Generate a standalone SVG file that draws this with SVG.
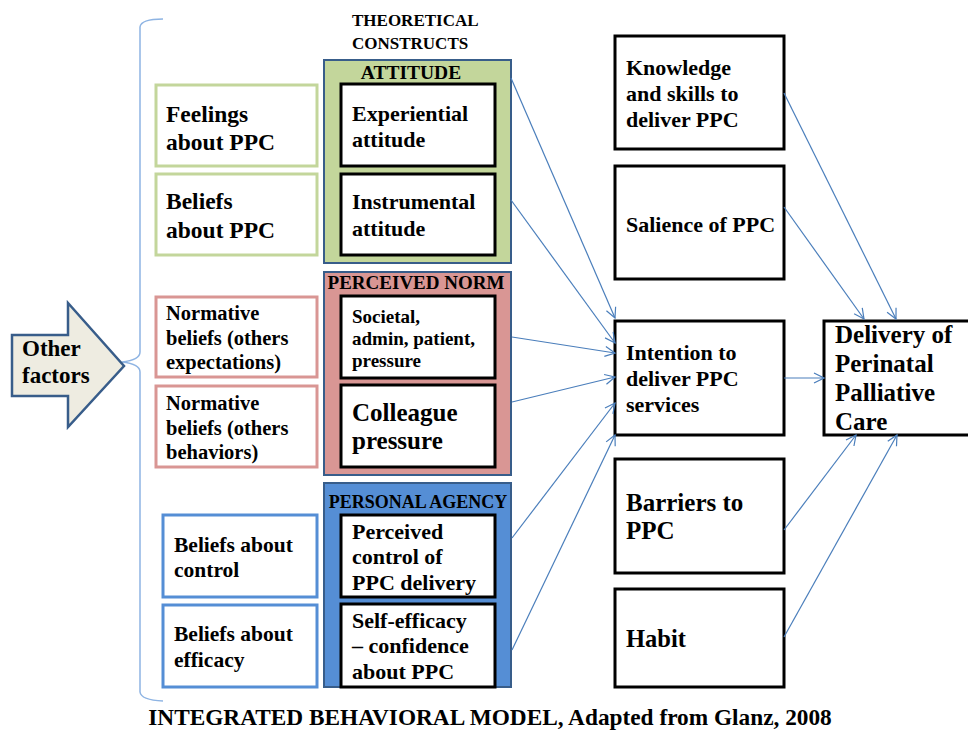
<svg xmlns="http://www.w3.org/2000/svg" width="968" height="731" viewBox="0 0 968 731">
<style>
text{font-family:"Liberation Serif","Times New Roman",serif;font-weight:bold;fill:#000}
.blk{fill:#fff;stroke:#000;stroke-width:3}
.gl{fill:#fff;stroke:#c3d69b;stroke-width:3}
.pl{fill:#fff;stroke:#d99694;stroke-width:3}
.bl{fill:#fff;stroke:#558ed5;stroke-width:3}
.con path{fill:none;stroke:#4a7ebb;stroke-width:1.2;marker-end:url(#ah)}
</style>
<defs>
<marker id="ah" markerUnits="userSpaceOnUse" markerWidth="12" markerHeight="12" viewBox="0 0 12 12" refX="11" refY="6" orient="auto">
<path d="M1,1 L11,6 L1,11" fill="none" stroke="#4a7ebb" stroke-width="1.2"/>
</marker>
</defs>
<rect width="968" height="731" fill="#fff"/>

<g id="brace"><path d="M163,19 Q141,19 140,27 L140,352 Q140,360 122,362 Q140,364 140,372 L140,692 Q141,700 163,701" fill="none" stroke="#8eb4e3" stroke-width="1.5"/></g>

<g id="other-factors">
<path d="M12,335 L68,335 L68,303 L124,366 L68,427 L68,396 L12,396 Z" fill="#eeece1" stroke="#385d8a" stroke-width="2.5" stroke-linejoin="miter"/>
<text x="22" y="356" font-size="23">Other</text>
<text x="22" y="383" font-size="23">factors</text>
</g>

<g id="title-constructs">
<text x="352" y="26" font-size="17">THEORETICAL</text>
<text x="352" y="49" font-size="17">CONSTRUCTS</text>
</g>

<g id="feelings"><rect class="gl" x="156" y="85" width="161" height="81"/>
<text x="166" y="122" font-size="23.5">Feelings</text><text x="166" y="150" font-size="23.5">about PPC</text></g>
<g id="beliefs"><rect class="gl" x="156" y="174" width="161" height="81"/>
<text x="166" y="209" font-size="23.5">Beliefs</text><text x="166" y="238" font-size="23.5">about PPC</text></g>

<g id="norm-exp"><rect class="pl" x="156" y="297" width="161" height="80"/>
<text x="166" y="320" font-size="20.5">Normative</text><text x="166" y="345" font-size="20.5">beliefs (others</text><text x="166" y="369" font-size="20.5">expectations)</text></g>
<g id="norm-beh"><rect class="pl" x="156" y="386" width="161" height="81"/>
<text x="166" y="410" font-size="20.5">Normative</text><text x="166" y="435" font-size="20.5">beliefs (others</text><text x="166" y="459" font-size="20.5">behaviors)</text></g>

<g id="bel-control"><rect class="bl" x="163" y="515" width="154" height="82"/>
<text x="174" y="552" font-size="21.5">Beliefs about</text><text x="174" y="577" font-size="21.5">control</text></g>
<g id="bel-efficacy"><rect class="bl" x="163" y="605" width="154" height="82"/>
<text x="174" y="641" font-size="21.5">Beliefs about</text><text x="174" y="667" font-size="21.5">efficacy</text></g>

<g id="attitude">
<rect x="324" y="60" width="187" height="203" fill="#c3d69b" stroke="#385d8a" stroke-width="2"/>
<text x="411" y="79" font-size="19.5" text-anchor="middle">ATTITUDE</text>
</g>
<g id="experiential"><rect class="blk" x="341" y="84" width="154" height="82"/>
<text x="352" y="121" font-size="22">Experiential</text><text x="352" y="147" font-size="22">attitude</text></g>
<g id="instrumental"><rect class="blk" x="341" y="174" width="154" height="81"/>
<text x="352" y="209" font-size="22">Instrumental</text><text x="352" y="236" font-size="22">attitude</text></g>

<g id="perceived-norm">
<rect x="324" y="272" width="187" height="203" fill="#d99694" stroke="#385d8a" stroke-width="2"/>
<text x="416" y="289" font-size="19" text-anchor="middle">PERCEIVED NORM</text>
</g>
<g id="societal"><rect class="blk" x="341" y="296" width="154" height="82"/>
<text x="352" y="323" font-size="19">Societal,</text><text x="352" y="345" font-size="19">admin, patient,</text><text x="352" y="367" font-size="19">pressure</text></g>
<g id="colleague"><rect class="blk" x="341" y="385" width="154" height="82"/>
<text x="352" y="421" font-size="25">Colleague</text><text x="352" y="449" font-size="25">pressure</text></g>

<g id="personal-agency">
<rect x="324" y="483" width="187" height="204" fill="#558ed5" stroke="#385d8a" stroke-width="2"/>
<text x="418" y="508" font-size="18" text-anchor="middle">PERSONAL AGENCY</text>
</g>
<g id="perceived-control"><rect class="blk" x="341" y="515" width="154" height="82"/>
<text x="352" y="539" font-size="22">Perceived</text><text x="352" y="564" font-size="22">control of</text><text x="352" y="590" font-size="22">PPC delivery</text></g>
<g id="self-efficacy"><rect class="blk" x="341" y="604" width="154" height="83"/>
<text x="352" y="628" font-size="22">Self-efficacy</text><text x="352" y="653" font-size="22">– confidence</text><text x="352" y="679" font-size="22">about PPC</text></g>

<g id="knowledge"><rect class="blk" x="615" y="36" width="169" height="113"/>
<text x="626" y="75" font-size="22">Knowledge</text><text x="626" y="101" font-size="22">and skills to</text><text x="626" y="127" font-size="22">deliver PPC</text></g>
<g id="salience"><rect class="blk" x="615" y="166" width="169" height="113"/>
<text x="626" y="232" font-size="22">Salience of PPC</text></g>
<g id="intention"><rect class="blk" x="615" y="321" width="169" height="114"/>
<text x="626" y="360" font-size="22">Intention to</text><text x="626" y="386" font-size="22">deliver PPC</text><text x="626" y="412" font-size="22">services</text></g>
<g id="barriers"><rect class="blk" x="615" y="459" width="169" height="114"/>
<text x="626" y="511" font-size="25">Barriers to</text><text x="626" y="539" font-size="25">PPC</text></g>
<g id="habit"><rect class="blk" x="615" y="589" width="169" height="98"/>
<text x="626" y="647" font-size="24.5">Habit</text></g>
<g id="delivery"><rect class="blk" x="824" y="321" width="150" height="114"/>
<text x="835" y="343" font-size="25">Delivery of</text><text x="835" y="372" font-size="25">Perinatal</text><text x="835" y="401" font-size="25">Palliative</text><text x="835" y="430" font-size="25">Care</text></g>

<g id="connectors" class="con">
<path d="M511,78 L615,318"/>
<path d="M511,200 L615,343"/>
<path d="M512,337 L615,353"/>
<path d="M512,402 L615,377"/>
<path d="M512,538 L615,403"/>
<path d="M512,650 L615,435"/>
<path d="M784,378 L824,378"/>
<path d="M784,93 L896,319"/>
<path d="M784,207 L864,319"/>
<path d="M784,530 L856,435"/>
<path d="M784,637 L897,435"/>
</g>

<g id="caption"><text x="490" y="725" font-size="23.3" text-anchor="middle">INTEGRATED BEHAVIORAL MODEL, Adapted from Glanz, 2008</text></g>
</svg>
